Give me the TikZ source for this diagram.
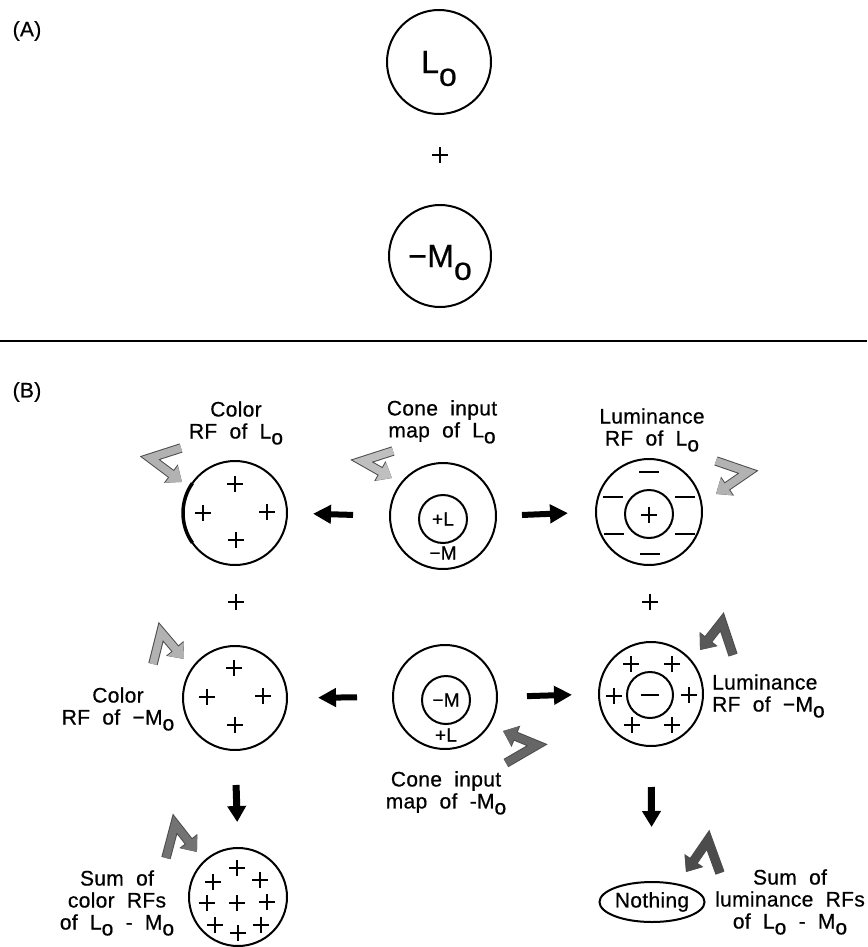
\documentclass[tikz,border=0pt]{standalone}
\usepackage{fontspec}
\setmainfont{Liberation Sans}[WordSpace=2, LetterSpace=1.5, FakeBold=0.6]
\usetikzlibrary{arrows.meta,shapes.geometric}
% lowered "o" used as the cone subscript
\newcommand\lo{\raisebox{-0.28em}[0pt][0pt]{o}}
\newcommand\bigo{\raisebox{-0.4em}[0pt][0pt]{o}}
\begin{document}
\begin{tikzpicture}[x=1pt,y=-1pt,
  every node/.style={font=\fontsize{21}{22}\selectfont, inner sep=0pt},
  rf/.style={circle, draw, line width=2, minimum size=2*#1},
  big/.style={font=\fontsize{32}{32}\selectfont},
  small/.style={font=\fontsize{19}{19}\selectfont},
  blk/.style={line width=6, -{Triangle[length=18pt,width=18pt]}},
  blkdown/.style={line width=7, -{Triangle[length=16pt,width=18pt]}},
  zz/.style={line width=7.5, draw=#1, line join=miter,
    -{Triangle[length=13pt,width=20pt]},
    preaction={draw=black!70, line width=9.5, -{Triangle[length=14pt,width=22pt]}}},
  pls/.pic={\draw[line width=2.4] (-8,0) -- (8,0) (0,-8) -- (0,8);},
  mns/.pic={\draw[line width=2.2] (-10,0) -- (10,0);},
]
\fill[white] (0,0) rectangle (867,947);
\useasboundingbox (0,0) rectangle (867,947);

% ---------- panel A ----------
\node (labA) at (27,31) {(A)};
\node[rf=52, big] (Lo) at (439,62) {L\bigo};
\pic at (440,155) {pls};
\node[rf=51, big] (Mo) at (440,256) {−M\bigo};

\coordinate (sepL) at (0,341);
\coordinate (sepR) at (867,341);
\draw[line width=1.8] (sepL) -- (sepR);

% ---------- panel B ----------
\node (labB) at (27,392) {(B)};

% top row: L cone
\node[align=center] (tcrfL) at (236,420) {Color\\RF of L\lo};
\node[align=center] (tconeL) at (442,421) {Cone input\\map of L\lo};
\node[align=center] (tlumL) at (652,427) {Luminance\\RF of L\lo};

\node[rf=52] (crfL) at (235,513) {};
\draw[line width=3.5] (crfL.center) ++(145:52) arc[start angle=145, end angle=215, radius=52];
\pic at (235,484) {pls};
\pic at (203,513) {pls};
\pic at (267,512) {pls};
\pic at (236,540) {pls};

\node[rf=53] (coneL) at (443,516) {};
\node[rf=24, small] (coneLin) at (443,519) {+L};
\node[small] (coneLs) at (443,553) {−M};

\node[rf=53] (lumL) at (649,512) {};
\node[rf=24] (lumLin) at (649,514) {};
\pic at (649,515) {pls};
\pic at (649,472) {mns};
\pic at (650,554) {mns};
\pic at (613,497) {mns};
\pic at (614,534) {mns};
\pic at (685,497) {mns};
\pic at (685,534) {mns};

\draw[blk, shorten <=36pt, shorten >=25pt] (coneL.west) -- (crfL.east);
\draw[blk, shorten <=25pt, shorten >=27pt] (coneL.east) -- (lumL.west);

% plus signs between the rows
\pic at (236,602) {pls};
\pic at (650,602) {pls};

% bottom row: M cone
\node[rf=52] (crfM) at (235,698) {};
\pic at (234,668) {pls};
\pic at (207,697) {pls};
\pic at (263,696) {pls};
\pic at (235,725) {pls};
\node[align=center] (tcrfM) at (118,706) {Color\\RF of −M\lo};

\node[rf=52] (coneM) at (445,697) {};
\node[rf=24, small] (coneMin) at (446,700) {−M};
\node[small] (coneMs) at (446,735) {+L};
\node[align=center] (tconeM) at (446,792) {Cone input\\map of -M\lo};

\node[rf=52] (lumM) at (651,694) {};
\node[rf=23] (lumMin) at (650,695) {};
\draw[line width=2] ([xshift=-9pt]lumMin.center) -- ([xshift=9pt]lumMin.center);
\pic at (631,664) {pls};
\pic at (672,664) {pls};
\pic at (614,696) {pls};
\pic at (689,695) {pls};
\pic at (632,725) {pls};
\pic at (672,725) {pls};
\node[align=left, anchor=west] (tlumM) at (712,693) {Luminance\\RF of −M\lo};

\draw[blk, shorten <=35pt, shorten >=30pt] (coneM.west) -- (crfM.east);
\draw[blk, shorten <=29pt, shorten >=26pt] (coneM.east) -- (lumM.west);

% sums
\node[rf=49] (sumC) at (238,897) {};
\pic at (213,882) {pls};
\pic at (237,868) {pls};
\pic at (260,880) {pls};
\pic at (207,903) {pls};
\pic at (237,903) {pls};
\pic at (267,902) {pls};
\pic at (215,925) {pls};
\pic at (238,933) {pls};
\pic at (261,925) {pls};
\node[align=center] (tsumC) at (117,900) {Sum of\\color RFs\\of L\lo{} - M\lo};

\node[ellipse, draw, line width=2, minimum width=104, minimum height=40] (noth) at (652,902) {Nothing};
\node[align=center] (tsumL) at (790,899) {Sum of\\luminance RFs\\of L\lo{} - M\lo};

\draw[blkdown, shorten <=34pt, shorten >=25pt] (crfM.south) -- (sumC.north);
\draw[blkdown, shorten <=40pt, shorten >=54pt] (lumM.south) -- (noth.north);

% bent pointer arrows
\draw[zz=gray!60] (181,448) -- (150,458) -- (182,482);
\draw[zz=gray!50] (393,451) -- (362,461) -- (392,478);
\draw[zz=gray!60] (716,461) -- (748,472) -- (716,494);
\draw[zz=gray!60] (153,664) -- (161,632) -- (184,659);
\draw[zz=black!60] (506,763) -- (537,745) -- (503,731);
\draw[zz=black!65] (733,655) -- (722,622) -- (700,650);
\draw[zz=black!55] (166,858) -- (175,824) -- (197,852);
\draw[zz=black!70] (720,873) -- (708,840) -- (686,872);
\end{tikzpicture}
\end{document}
